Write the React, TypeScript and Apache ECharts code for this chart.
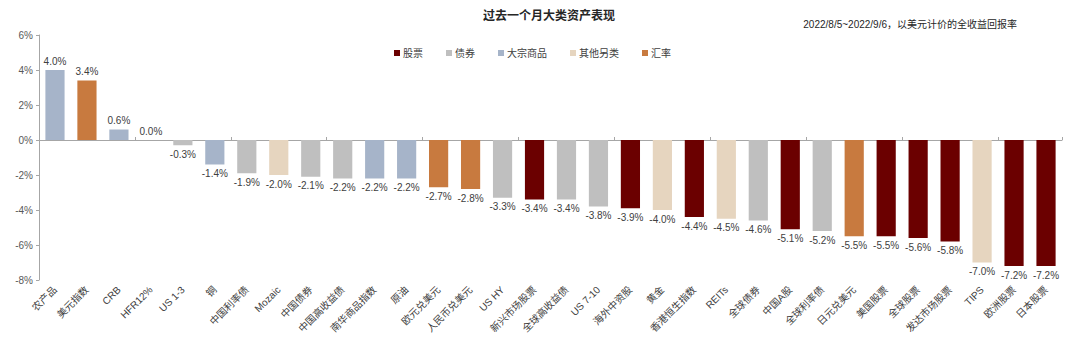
import React, { useEffect, useRef } from "react";
import * as echarts from "echarts";

const categories = [
  "农产品", "美元指数", "CRB", "HFR12%", "US 1-3", "铜", "中国利率债", "Mozaic",
  "中国债券", "中国高收益债", "南华商品指数", "原油", "欧元兑美元", "人民币兑美元", "US HY", "新兴市场股票",
  "全球高收益债", "US 7-10", "海外中资股", "黄金", "香港恒生指数", "REITs", "全球债券", "中国A股",
  "全球利率债", "日元兑美元", "美国股票", "全球股票", "发达市场股票", "TIPS", "欧洲股票", "日本股票",
];
const values = [
  4.0, 3.4, 0.6, 0.0, -0.3, -1.4, -1.9, -2.0,
  -2.1, -2.2, -2.2, -2.2, -2.7, -2.8, -3.3, -3.4,
  -3.4, -3.8, -3.9, -4.0, -4.4, -4.5, -4.6, -5.1,
  -5.2, -5.5, -5.5, -5.6, -5.8, -7.0, -7.2, -7.2,
];
// group index per category: 0 股票, 1 债券, 2 大宗商品, 3 其他另类, 4 汇率
const groups = [
  2, 4, 2, 3, 1, 2, 1, 3,
  1, 1, 2, 2, 4, 4, 1, 0,
  1, 1, 0, 3, 0, 3, 1, 0,
  1, 4, 0, 0, 0, 3, 0, 0,
];
const groupNames = ["股票", "债券", "大宗商品", "其他另类", "汇率"];
const groupColors = ["#6B0000", "#BFBFBF", "#A6B4C9", "#E6D5BF", "#C87A3F"];
const yTicks = { min: -8, max: 6, interval: 2 };

export default function App() {
  const ref = useRef<HTMLDivElement>(null);
  useEffect(() => {
    if (!ref.current) return;
    const chart = echarts.init(ref.current, null, { renderer: "svg" });
    const series = groupNames.map((name, g) => ({
      name,
      type: "bar",
      stack: "all",
      xAxisIndex: 0,
      barWidth: "60%",
      itemStyle: { color: groupColors[g] },
      label: {
        show: true,
        fontSize: 10,
        color: "#404040",
        fontFamily: "Liberation Sans, Arial, sans-serif",
        distance: 4,
        formatter: (p: any) => Number(p.value).toFixed(1) + "%",
      },
      data: values.map((v, i) =>
        groups[i] === g
          ? { value: v, label: { position: v >= 0 ? "top" : "bottom" } }
          : "-"
      ),
    }));
    chart.setOption({
      animation: false,
      textStyle: { fontFamily: "Liberation Sans, 'Noto Sans CJK SC', sans-serif" },
      title: [
        {
          text: "过去一个月大类资产表现",
          left: 478,
          top: 3,
          textStyle: { fontSize: 12, fontWeight: "bold", color: "#262626", fontFamily: "'Noto Sans CJK SC', sans-serif" },
        },
        {
          text: "2022/8/5~2022/9/6，以美元计价的全收益回报率",
          right: 58,
          top: 14,
          textStyle: { fontSize: 10, fontWeight: "normal", color: "#262626", fontFamily: "Liberation Sans, 'Noto Sans CJK SC', sans-serif" },
        },
      ],
      legend: {
        left: 389,
        top: 43,
        itemWidth: 6,
        itemHeight: 6,
        itemGap: 23,
        icon: "rect",
        textStyle: { fontSize: 10, color: "#404040", padding: [0, 0, 0, -2] },
        data: groupNames,
      },
      grid: { left: 39, right: 18, top: 35, bottom: 73 },
      xAxis: [
        {
          type: "category",
          data: categories,
          position: "bottom",
          axisLine: { onZero: true, lineStyle: { color: "#A6A6A6" } },
          axisTick: { show: true, inside: true, length: 3, lineStyle: { color: "#A6A6A6" } },
          axisLabel: { show: false },
        },
        {
          type: "category",
          data: categories,
          position: "bottom",
          axisLine: { show: false, onZero: false },
          axisTick: { show: false },
          axisLabel: {
            show: true,
            interval: 0,
            rotate: 45,
            fontSize: 10,
            margin: 8,
            color: "#404040",
            fontFamily: "Liberation Sans, 'Noto Sans CJK SC', sans-serif",
          },
        },
      ],
      yAxis: {
        type: "value",
        min: yTicks.min,
        max: yTicks.max,
        interval: yTicks.interval,
        axisLine: { show: true, lineStyle: { color: "#A6A6A6" } },
        axisTick: { show: true, length: 3, lineStyle: { color: "#A6A6A6" } },
        splitLine: { show: false },
        axisLabel: {
          fontSize: 10,
          color: "#595959",
          margin: 6,
          formatter: (v: number) => v + "%",
        },
      },
      series,
    });
    return () => chart.dispose();
  }, []);
  return (
    <div
      ref={ref}
      style={{ position: "absolute", left: 0, top: 0, width: 1080, height: 353 }}
    />
  );
}
